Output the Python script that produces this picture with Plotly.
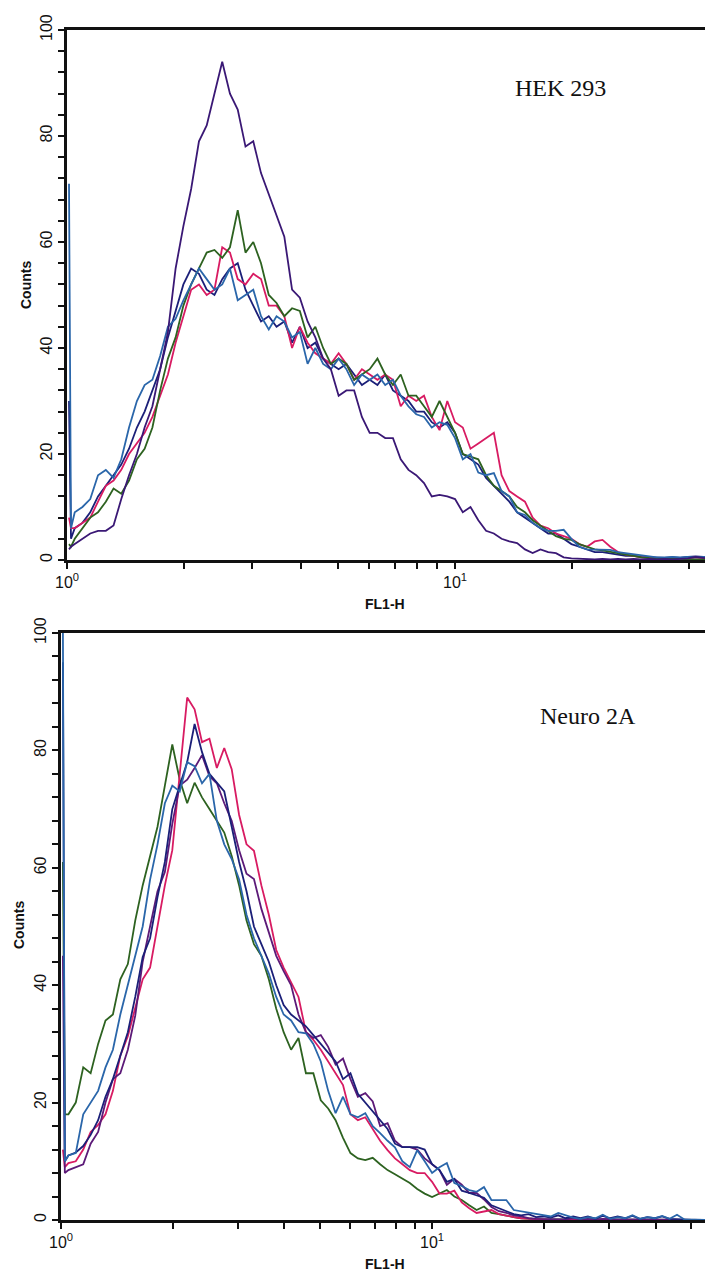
import plotly.graph_objects as go

# FL1-H channel positions (first two entries: first-channel spike and start)
FL1 = [1.012, 1.024, 1.047, 1.096, 1.148, 1.202, 1.259, 1.318, 1.380, 1.445, 1.514,
       1.585, 1.660, 1.738, 1.820, 1.905, 1.995, 2.089, 2.188, 2.291, 2.399,
       2.512, 2.630, 2.754, 2.884, 3.020, 3.162, 3.311, 3.467, 3.631, 3.802,
       3.981, 4.169, 4.365, 4.571, 4.786, 5.012, 5.248, 5.495, 5.754, 6.026,
       6.310, 6.607, 6.918, 7.244, 7.586, 7.943, 8.318, 8.710, 9.120, 9.550,
       10.00, 10.47, 10.96, 11.48, 12.02, 12.59, 13.18, 13.80, 14.45, 15.14,
       15.85, 16.60, 17.38, 18.20, 19.05, 19.95, 20.89, 21.88, 22.91, 23.99,
       25.12, 26.30, 27.54, 28.84, 30.20, 31.62, 33.11, 34.67, 36.31, 38.02,
       39.81, 41.69, 43.65, 45.71, 47.86, 50.12, 52.48, 54.95, 57.54]

# ---------------- HEK 293 ----------------
hek_purple = [2, 2.5,
    3, 4, 5, 5.5, 5.5, 6.5, 11.5, 16, 20, 25,
    29, 36, 43, 55, 63, 70, 79, 82, 88, 94,
    88, 85, 78, 79, 73, 69, 65, 61, 51, 49.5,
    45, 42, 38, 36, 31, 32, 32, 27, 24, 24,
    23, 23, 19, 17, 16, 14.5, 12, 12.3, 12, 11.5,
    9, 10, 7.5, 5.5, 5, 4, 3.5, 3.2, 2, 1.3,
    2, 1.5, 1.3, 0.5, 0.3, 0.2, 0.2, 0.1, 0.2, 0.1,
    0.2, 0.1, 0.2, 0.1, 0.2, 0.1, 0.2, 0.1, 0.2, 0.3,
    0.6, 0.4, 0.2]
hek_magenta = [8, 6,
    6, 7, 8, 11, 14, 15, 17, 20, 22, 24,
    27, 31, 35, 41, 46, 51, 52, 50, 51, 59,
    58, 53, 52, 54, 53, 48, 48, 46, 40, 44,
    41, 39, 38, 37, 39, 37, 34, 36, 35, 34,
    35, 34, 29, 31, 30, 31, 27, 24.5, 30, 26,
    25, 21, 22, 23, 24, 16, 13, 12, 11, 8,
    6.5, 6, 5, 4.5, 4, 3, 2.5, 3.5, 3.8, 2.5,
    1.5, 1, 0.8, 0.5, 0.5, 0.3, 0.2, 0.3, 0.2, 0.2,
    0.1, 0.2, 0.1]
hek_green = [3, 2.5,
    4, 6, 8, 9, 11, 13.5, 12.5, 15, 19, 21,
    25, 32, 38, 42, 48, 52, 55, 58, 58.5, 57,
    59, 66, 58, 60, 56, 50, 48.5, 46, 47.5, 47,
    42, 44, 40, 37, 38, 37, 34, 35, 36, 38,
    35, 33, 35, 31, 31, 29, 27, 30, 27, 24,
    20, 19.5, 19, 16, 14, 13, 12, 10, 9, 7.5,
    6.5, 5.5, 4.5, 4, 3.8, 3, 2.5, 2, 1.8, 1.5,
    1.2, 1, 0.8, 0.5, 0.4, 0.3, 0.3, 0.2, 0.2, 0.1,
    0.1, 0.1, 0.1]
hek_blue = [71, 6,
    9, 10, 11.5, 16, 17, 15.5, 19, 25, 30, 33,
    34, 38.5, 44, 45.5, 49, 52, 55, 53, 51, 52,
    55, 49, 50, 51, 46, 43.5, 46, 45, 42, 43,
    37, 40, 37, 36, 38, 36, 33, 35, 34, 35,
    33, 34, 31, 29, 27.5, 27, 25, 26, 25.5, 23,
    19, 20, 16.5, 16, 16.4, 13, 12, 9, 8.5, 7,
    6, 5.5, 5.5, 5.7, 4, 2.5, 2, 2, 1.9, 1.9,
    1.5, 1.3, 1, 0.8, 0.6, 0.5, 0.5, 0.6, 0.5, 0.6,
    0.5, 0.6, 0.5]
hek_navy = [30, 4,
    6, 7, 9, 12, 14, 16, 18, 21, 25, 28,
    32, 36, 42, 47, 52, 55, 54, 51, 50, 53,
    55, 56, 51, 48, 45, 46, 44, 45, 41, 44,
    40, 41, 38, 37, 36, 37, 35, 33, 34, 33,
    35, 32, 31, 30, 28, 28, 26, 25, 26, 24,
    20, 19, 18, 15.5, 14, 12.5, 11, 9, 8, 7,
    6, 5, 5, 4, 3, 2.5, 2, 1.5, 1.5, 1.2,
    1, 0.8, 0.8, 0.6, 0.5, 0.5, 0.4, 0.5, 0.4, 0.6,
    0.7, 0.6, 0.4]

# ---------------- Neuro 2A ----------------
n2a_green = [61, 18,
    18, 20, 26, 25, 30, 34, 35, 41, 43.6, 51,
    57, 62, 67, 74, 81, 75, 71, 74.5, 72, 70,
    68, 66, 62, 57, 51, 47, 45, 41, 36, 32,
    29, 31, 25, 25, 20.4, 19, 17, 14, 11.4, 10.5,
    10.2, 10.6, 9.5, 8.5, 7.8, 7, 6.3, 5.3, 4.5, 3.9,
    4.5, 5.1, 4, 3.4, 2.5, 1.7, 2.3, 1.2, 1, 0.7,
    0.5, 0.3, 0.2, 0.2, 0.1, 0.1, 0.1, 0, 0, 0,
    0, 0, 0, 0, 0, 0, 0, 0, 0, 0,
    0, 0, 0, 0, 0, 0, 0, 0]
n2a_magenta = [12, 9,
    9.7, 10, 12, 15, 16.2, 18, 22, 28, 31.3, 36,
    41, 43, 50, 57, 63, 76, 89, 87, 81.4, 82,
    77, 80.4, 76.8, 69, 64, 62.9, 57, 52, 46, 43,
    40.5, 38, 32, 30.7, 29, 27, 25, 23, 18, 17,
    17.5, 15.5, 13.5, 11.9, 10.5, 9.5, 8.5, 8, 8, 6.5,
    4.5, 4.5, 5, 3, 2, 1.2, 1.5, 1.7, 1, 0.7,
    0.5, 0.3, 0.2, 0.1, 0.1, 0, 0, 0, 0, 0,
    0, 0, 0, 0, 0, 0, 0, 0, 0, 0,
    0, 0, 0, 0, 0, 0, 0, 0]
n2a_purple = [45, 8,
    8.5, 9, 9.5, 13, 15, 20, 24, 25, 29, 34.8,
    44, 50, 56, 59.3, 67.5, 74, 75, 77, 79.2, 75.6,
    74.4, 71, 68, 63, 59, 58.1, 53, 49, 45, 42.4,
    40, 35, 32, 31, 31.5, 29.5, 26.5, 27.5, 24, 21,
    21.6, 20.2, 16, 16.5, 13.5, 12.4, 12.4, 12, 10.5, 9.5,
    8.5, 6, 7, 6, 4.6, 4.6, 3.5, 2.2, 1.5, 1.2,
    0.8, 0.6, 0.3, 0.2, 0.2, 0.1, 0.2, 0.1, 0.3, 0.1,
    0.2, 0.1, 0.2, 0.1, 0.1, 0.1, 0.1, 0, 0, 0,
    0, 0, 0, 0, 0, 0, 0, 0]
n2a_navy = [95, 10,
    11, 11.5, 12.6, 14.5, 17, 21, 24, 28, 32, 38,
    44.8, 48, 55, 61, 70, 74, 78, 84.5, 79.7, 76,
    74.5, 73, 67, 61, 56, 50, 47, 44, 40, 36.6,
    35, 34, 33, 31.5, 30, 28.5, 27, 24, 25, 21.5,
    20, 18.5, 17, 15.5, 13, 12.4, 12.4, 12.4, 12, 9.5,
    8.5, 6.5, 7, 5, 4.6, 4.2, 3.8, 2.5, 2, 1.5,
    1, 0.8, 1, 0.5, 0.6, 0.4, 0.8, 0.3, 0.6, 0.3,
    0.6, 0.2, 0.7, 0.3, 0.6, 0.3, 0.7, 0.2, 0.5, 0.3,
    0.6, 0.2, 0.1, 0, 0, 0, 0, 0]
n2a_blue = [100, 10,
    11, 11.4, 18, 20, 22, 26, 29, 35, 40, 45,
    50, 58, 64, 71, 74, 73, 78, 77.3, 74.4, 76,
    68, 64, 61.5, 58, 52, 48, 45, 42, 38, 35,
    34, 32, 31.8, 30, 27, 22, 18.2, 21, 18, 17.5,
    18.2, 16, 14.8, 13.5, 12.4, 10, 9, 11.9, 10, 8,
    9, 9.7, 6.3, 5.8, 5.1, 4.8, 5.6, 3.4, 3.4, 3.4,
    1.7, 1.5, 1.2, 1, 0.8, 0.6, 1.2, 0.8, 0.4, 0.2,
    0.5, 0.3, 0.9, 0.2, 0.5, 0.3, 0.8, 0.2, 0.5, 0.3,
    0.7, 0.2, 0.9, 0.1, 0.1, 0, 0, 0]

Y_TICKS = [0, 4, 8, 12, 16, 20, 24, 28, 32, 36, 40, 44, 48, 52, 56, 60,
           64, 68, 72, 76, 80, 84, 88, 92, 96, 100]
Y_TEXT = ["0", "", "", "", "", "20", "", "", "", "", "40", "", "", "", "", "60",
          "", "", "", "", "80", "", "", "", "", "100"]
X_TICKS = [1, 2, 3, 4, 5, 6, 7, 8, 9, 10, 20, 30, 40, 50]
X_TEXT = ["10<sup>0</sup>", "", "", "", "", "", "", "", "", "10<sup>1</sup>", "", "", "", ""]

# page offset of the plot div (body margin) -> figure drawn 8px in from window edge
OFF = 8
W, H = 713 - OFF, 1279 - OFF

def fx(px):
    return (px - OFF) / W

def fy(py):
    return 1 - (py - OFF) / H

C_PURPLE = "#3a1875"
C_PURPLE2 = "#5c1a78"
C_MAGENTA = "#d81b62"
C_GREEN = "#2d6220"
C_BLUE = "#2a66aa"
C_NAVY = "#1b1f78"

fig = go.Figure()

def add(y, color, xa, ya):
    fig.add_trace(go.Scatter(x=FL1[:len(y)], y=y, mode="lines",
                             line=dict(color=color, width=1.8),
                             xaxis=xa, yaxis=ya, showlegend=False,
                             hoverinfo="skip", cliponaxis=True))

add(hek_navy, C_NAVY, "x", "y")
add(hek_magenta, C_MAGENTA, "x", "y")
add(hek_green, C_GREEN, "x", "y")
add(hek_blue, C_BLUE, "x", "y")
add(hek_purple, C_PURPLE, "x", "y")

add(n2a_green, C_GREEN, "x2", "y2")
add(n2a_magenta, C_MAGENTA, "x2", "y2")
add(n2a_purple, C_PURPLE2, "x2", "y2")
add(n2a_navy, C_NAVY, "x2", "y2")
add(n2a_blue, C_BLUE, "x2", "y2")

axfont = dict(family="Liberation Sans, Arial, sans-serif", size=16, color="#111")

def xaxis(dom, rng, anchor):
    return dict(type="log", domain=dom, range=rng, anchor=anchor, automargin=False,
                tickvals=X_TICKS, ticktext=X_TEXT, ticks="outside",
                ticklen=6, tickwidth=2, tickcolor="#111",
                showline=True, linecolor="#111", linewidth=3, mirror=True,
                showgrid=False, zeroline=False, tickfont=axfont)

def yaxis(dom, anchor, mirror):
    return dict(domain=dom, range=[0, 100], anchor=anchor, automargin=False,
                tickvals=Y_TICKS, ticktext=Y_TEXT, ticks="outside",
                ticklen=6, tickwidth=2, tickcolor="#111", tickangle=-90,
                showline=True, linecolor="#111", linewidth=3, mirror=mirror,
                showgrid=False, zeroline=False, tickfont=axfont)

fig.update_layout(
    width=W, height=H,
    margin=dict(l=0, r=0, t=0, b=0, pad=0),
    paper_bgcolor="white", plot_bgcolor="white",
    xaxis=xaxis([fx(67), fx(710)], [0, 1.657], "y"),
    yaxis=yaxis([fy(560), fy(30)], "x", True),
    xaxis2=xaxis([fx(61), 1.0], [0, 1.757], "y2"),
    yaxis2=yaxis([fy(1220), fy(633)], "x2", False),
)

def ann(text, px, py, size, family, angle=0):
    fig.add_annotation(text=text, x=fx(px), y=fy(py), xref="paper", yref="paper",
                       showarrow=False, textangle=angle,
                       font=dict(family=family, size=size, color="#111"),
                       xanchor="center", yanchor="middle")

sans = "Liberation Sans, Arial, sans-serif"
serif = "Liberation Serif, Times New Roman, serif"
ann("<b>Counts</b>", 26, 285, 14, sans, -90)
ann("<b>Counts</b>", 19, 925, 14, sans, -90)
ann("<b>FL1-H</b>", 385, 604, 14, sans)
ann("<b>FL1-H</b>", 385, 1264, 14, sans)
ann("HEK 293", 560, 88, 24, serif)
ann("Neuro 2A", 588, 716, 24, serif)

fig.write_html("out.html")
